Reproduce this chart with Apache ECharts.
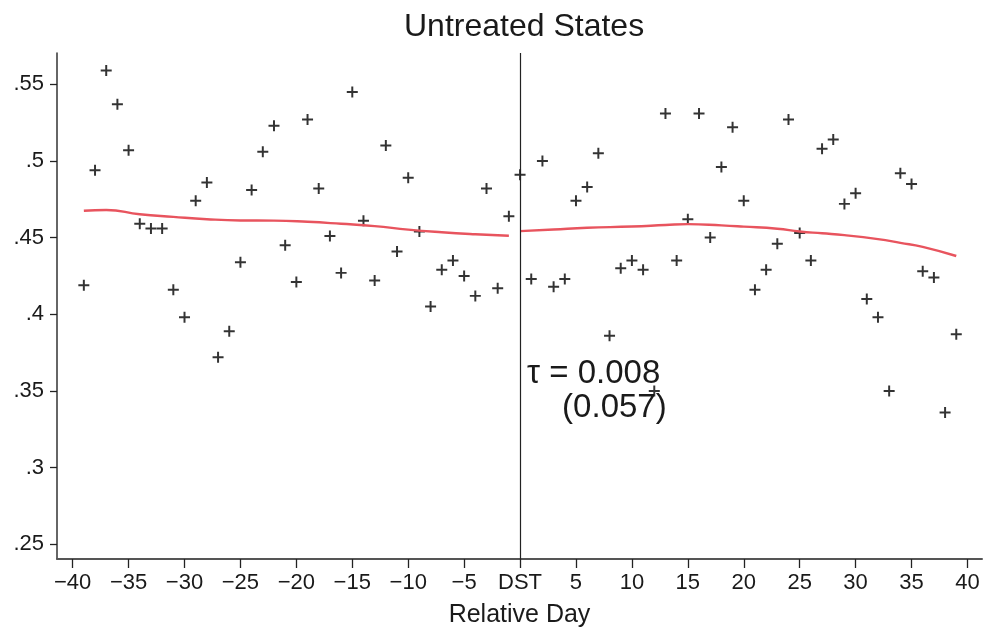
<!DOCTYPE html>
<html>
<head>
<meta charset="utf-8">
<script src="https://cdn.jsdelivr.net/npm/echarts@6/dist/echarts.min.js"></script>
<style>html,body{margin:0;padding:0;background:#fff;}#c{width:984px;height:633px;}</style>
</head>
<body>
<div id="c"></div>
<script>
// ---- data ----
const days = [-39,-38,-37,-36,-35,-34,-33,-32,-31,-30,-29,-28,-27,-26,-25,-24,-23,-22,-21,-20,
  -19,-18,-17,-16,-15,-14,-13,-12,-11,-10,-9,-8,-7,-6,-5,-4,-3,-2,-1,
  0,1,2,3,4,5,6,7,8,9,10,11,12,13,14,15,16,17,18,19,20,
  21,22,23,24,25,26,27,28,29,30,31,32,33,34,35,36,37,38,39];
const values = [0.419,0.494,0.559,0.537,0.507,0.459,0.456,0.456,0.416,0.398,0.474,0.486,0.372,0.389,0.434,0.481,0.506,0.523,0.445,0.421,
  0.527,0.482,0.451,0.427,0.545,0.461,0.422,0.510,0.441,0.489,0.454,0.405,0.429,0.435,0.425,0.412,0.482,0.417,0.464,
  0.491,0.423,0.500,0.418,0.423,0.474,0.483,0.505,0.386,0.430,0.435,0.429,0.350,0.531,0.435,0.462,0.531,0.450,0.496,0.522,0.474,
  0.416,0.429,0.446,0.527,0.453,0.435,0.508,0.514,0.472,0.479,0.410,0.398,0.350,0.492,0.485,0.428,0.424,0.336,0.387];
const fitLeftDays = [-39,-37,-34,-31,-28,-25,-22,-19,-16,-13,-10,-7,-4,-1];
const fitLeftValues = [0.4675,0.4680,0.4652,0.4635,0.4620,0.4612,0.4611,0.4603,0.4590,0.4575,0.4552,0.4535,0.4522,0.4512];
const fitRightDays = [0,3,6,10,13,15,18,20,23,25,27,29,32,34,36,39];
const fitRightValues = [0.4542,0.4553,0.4564,0.4572,0.4582,0.4588,0.4580,0.4572,0.4558,0.4540,0.4528,0.4516,0.4490,0.4466,0.4440,0.4380];
const xTicks = [-40,-35,-30,-25,-20,-15,-10,-5,0,5,10,15,20,25,30,35,40];
const yTicks = [0.25,0.3,0.35,0.4,0.45,0.5,0.55];
const titleText = 'Untreated States';
const xName = 'Relative Day';
const tauText = 'τ = 0.008';
const seText = '(0.057)';

const FONT = '"Liberation Sans", Arial, sans-serif';
const chart = echarts.init(document.getElementById('c'), null, {renderer: 'canvas'});
const plus = 'path://M4.1,0H5.9V4.1H10V5.9H5.9V10H4.1V5.9H0V4.1H4.1Z';

const option = {
  backgroundColor: '#fff',
  animation: false,
  title: {
    text: titleText, left: 399, top: 6,
    textStyle: {fontFamily: FONT, fontSize: 32, fontWeight: 'normal', color: '#1a1a1a'}
  },
  grid: {left: 57, right: 2, top: 53, bottom: 74, containLabel: false},
  xAxis: {
    type: 'value', min: -41.4, max: 41.3,
    name: xName, nameLocation: 'middle', nameGap: 44,
    nameTextStyle: {fontFamily: FONT, fontSize: 25, color: '#1a1a1a'},
    axisLine: {show: true, onZero: false, lineStyle: {color: '#555', width: 2}},
    axisTick: {show: true, length: 9, customValues: xTicks, lineStyle: {color: '#222', width: 1.3}},
    axisLabel: {
      customValues: xTicks, margin: 13, fontFamily: FONT, fontSize: 22, color: '#1a1a1a',
      formatter: v => v === 0 ? 'DST' : (v < 0 ? '\u2212' + Math.abs(v) : String(v))
    },
    splitLine: {show: false}
  },
  yAxis: {
    type: 'value', min: 0.2404, max: 0.5704,
    axisLine: {show: true, onZero: false, lineStyle: {color: '#333', width: 1.5}},
    axisTick: {show: true, length: 7, customValues: yTicks, lineStyle: {color: '#222', width: 1.3}},
    axisLabel: {
      customValues: yTicks, margin: 13, fontFamily: FONT, fontSize: 22, color: '#1a1a1a',
      formatter: v => String(+v.toFixed(2)).replace(/^0/, '')
    },
    splitLine: {show: false}
  },
  series: [
    {
      type: 'scatter', symbol: plus, symbolSize: 11,
      itemStyle: {color: '#000'},
      data: days.map((d, i) => [d, values[i]]),
      markLine: {
        silent: true, symbol: 'none', label: {show: false},
        lineStyle: {color: '#222', width: 1.2, type: 'solid'},
        data: [{xAxis: 0}]
      }
    },
    {
      type: 'line', smooth: true, showSymbol: false,
      lineStyle: {color: '#e8545e', width: 2.4},
      data: fitLeftDays.map((d, i) => [d, fitLeftValues[i]])
    },
    {
      type: 'line', smooth: true, showSymbol: false,
      lineStyle: {color: '#e8545e', width: 2.4},
      data: fitRightDays.map((d, i) => [d, fitRightValues[i]])
    }
  ]
};
chart.setOption(option);

const p1 = chart.convertToPixel({gridIndex: 0}, [0.63, 0.361]);
const p2 = chart.convertToPixel({gridIndex: 0}, [3.76, 0.339]);
chart.setOption({
  graphic: [
    {type: 'text', x: p1[0], y: p1[1], style: {text: tauText, font: '33px ' + FONT, fill: '#1a1a1a', textVerticalAlign: 'middle', verticalAlign: 'middle'}},
    {type: 'text', x: p2[0], y: p2[1], style: {text: seText, font: '33px ' + FONT, fill: '#1a1a1a', textVerticalAlign: 'middle', verticalAlign: 'middle'}}
  ]
});
</script>
</body>
</html>
